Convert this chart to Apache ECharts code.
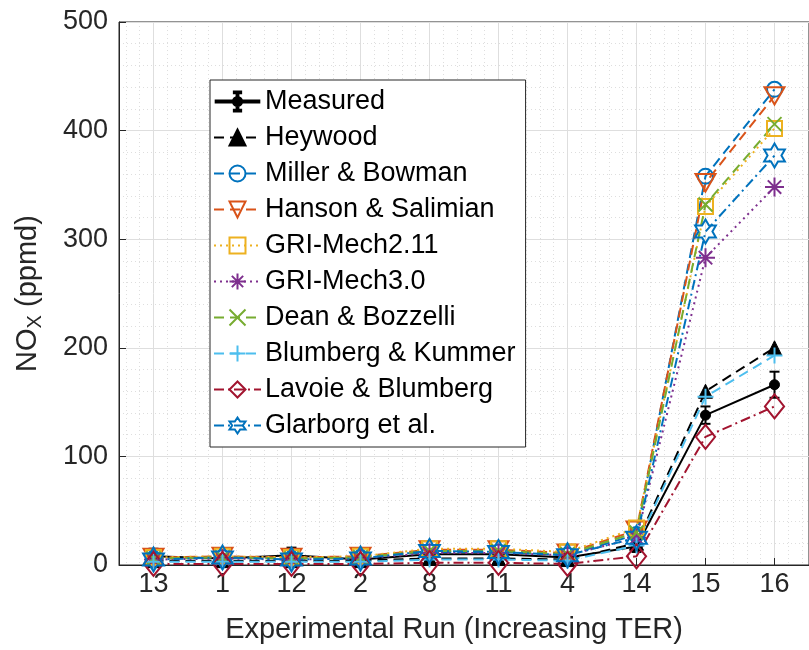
<!DOCTYPE html>
<html>
<head>
<meta charset="utf-8">
<script src="https://cdn.jsdelivr.net/npm/echarts@6/dist/echarts.min.js"></script>
<style>
  html, body { margin: 0; padding: 0; background: #ffffff; }
  #chart { width: 809px; height: 650px; }
</style>
</head>
<body>
<div id="chart"></div>
<script>
// Experimental runs, ordered by increasing TER
const runs = ['13', '1', '12', '2', '8', '11', '4', '14', '15', '16'];

// NOx (ppmd) per run
const measured       = [8, 6, 9, 5, 10, 10, 7, 17, 138, 166];
const measuredErr    = [7, 3, 7, 3, 4, 4, 3, 5, 8, 12];
const heywood        = [4, 4, 4, 4, 6, 6, 5, 20, 160, 200];
const millerBowman   = [6, 7, 6, 7, 12, 12, 9, 28, 358, 438];
const hansonSalimian = [7, 8, 7, 8, 14, 14, 11, 32, 352, 432];
const griMech211     = [7, 8, 7, 8, 15, 15, 12, 34, 330, 402];
const griMech30      = [5, 6, 5, 6, 11, 11, 9, 25, 283, 348];
const deanBozzelli   = [6, 7, 6, 7, 13, 13, 10, 30, 332, 406];
const blumbergKummer = [3, 3, 3, 3, 5, 5, 4, 18, 155, 193];
const lavoieBlumberg = [1, 1, 1, 1, 2, 2, 1, 8, 118, 146];
const glarborg       = [5, 7, 5, 6, 13, 12, 9, 25, 307, 377];

const yTicks = [0, 100, 200, 300, 400, 500];

// Marker outlines
const SYM = {
  circle:   'path://M10,0A10,10 0 1,1 -10,0A10,10 0 1,1 10,0Z',
  triDown:  'path://M-10,-8.66L10,-8.66L0,8.66Z',
  square:   'path://M-10,-10H10V10H-10Z',
  asterisk: 'path://M0,-10L0,10M-10,0L10,0M-7.07,-7.07L7.07,7.07M-7.07,7.07L7.07,-7.07',
  cross:    'path://M-10,-10L10,10M-10,10L10,-10',
  plus:     'path://M0,-10L0,10M-10,0L10,0',
  diamond:  'path://M0,-10L8,0L0,10L-8,0Z',
  hexagram: 'path://M0,-10L2.887,-5L8.66,-5L5.774,0L8.66,5L2.887,5L0,10L-2.887,5L-8.66,5L-5.774,0L-8.66,-5L-2.887,-5Z'
};
const DASH = [10, 6], DOT = [2, 4], DASHDOT = [10, 4, 2, 4];

const pts = arr => arr.map((v, i) => [i + 1, v]);

function lineSeries(name, values, color, dash, symbol, size, filled) {
  return {
    type: 'line',
    name: name,
    data: pts(values),
    symbol: symbol,
    symbolSize: size,
    symbolKeepAspect: true,
    lineStyle: { color: color, width: 2, type: dash },
    itemStyle: filled
      ? { color: color, borderColor: color, borderWidth: 1 }
      : { color: 'none', borderColor: color, borderWidth: 2 },
    emphasis: { disabled: true },
    z: 3
  };
}

const series = [
  lineSeries('Measured', measured, '#000000', 'solid', 'circle', 10, true),
  {
    type: 'custom',
    name: 'Measured range',
    data: measured.map((v, i) => [i + 1, v - measuredErr[i], v + measuredErr[i]]),
    encode: { x: 0, y: [1, 2] },
    renderItem: function (params, api) {
      const x = api.value(0);
      const lo = api.coord([x, api.value(1)]);
      const hi = api.coord([x, api.value(2)]);
      const hw = 5;
      const st = { stroke: '#000000', lineWidth: 2 };
      return {
        type: 'group',
        children: [
          { type: 'line', shape: { x1: lo[0], y1: lo[1], x2: hi[0], y2: hi[1] }, style: st },
          { type: 'line', shape: { x1: lo[0] - hw, y1: lo[1], x2: lo[0] + hw, y2: lo[1] }, style: st },
          { type: 'line', shape: { x1: hi[0] - hw, y1: hi[1], x2: hi[0] + hw, y2: hi[1] }, style: st }
        ]
      };
    },
    z: 3
  },
  lineSeries('Heywood', heywood, '#000000', DASH, 'triangle', 14, true),
  lineSeries('Miller & Bowman', millerBowman, '#0072BD', DASH, SYM.circle, 15, false),
  lineSeries('Hanson & Salimian', hansonSalimian, '#D95319', DASH, SYM.triDown, 20, false),
  lineSeries('GRI-Mech2.11', griMech211, '#EDB120', DOT, SYM.square, 15, false),
  lineSeries('GRI-Mech3.0', griMech30, '#7E2F8E', DOT, SYM.asterisk, 19, false),
  lineSeries('Dean & Bozzelli', deanBozzelli, '#77AC30', DASH, SYM.cross, 14, false),
  lineSeries('Blumberg & Kummer', blumbergKummer, '#4DBEEE', DASH, SYM.plus, 16, false),
  lineSeries('Lavoie & Blumberg', lavoieBlumberg, '#A2142F', DASHDOT, SYM.diamond, 24, false),
  lineSeries('Glarborg et al.', glarborg, '#0072BD', DASHDOT, SYM.hexagram, 24, false)
];

const FONT = '"Liberation Sans", Arial, Helvetica, sans-serif';
const TXT = '#262626';
const GRIDC = '#dedede';

const chart = echarts.init(document.getElementById('chart'), null, { renderer: 'canvas' });
chart.setOption({
  animation: false,
  backgroundColor: '#ffffff',
  textStyle: { fontFamily: FONT },
  grid: {
    left: 119, top: 22, width: 700, height: 543,
    show: true, borderColor: TXT, borderWidth: 1, backgroundColor: '#ffffff'
  },
  legend: {
    data: [
      { name: 'Measured', icon: 'path://M0,10H48V12H0Z M23,1H25V21H23Z M20,0H28V2H20Z M20,20H28V22H20Z M29,11A5,5 0 1,1 19,11A5,5 0 1,1 29,11Z' },
      'Heywood', 'Miller & Bowman', 'Hanson & Salimian', 'GRI-Mech2.11', 'GRI-Mech3.0',
      'Dean & Bozzelli', 'Blumberg & Kummer', 'Lavoie & Blumberg', 'Glarborg et al.'
    ],
    orient: 'vertical',
    left: 210, top: 80,
    itemWidth: 47, itemHeight: 20, itemGap: 9,
    padding: [8, 10, 8, 3],
    backgroundColor: '#ffffff',
    borderColor: TXT, borderWidth: 1, borderRadius: 0,
    selectedMode: false,
    textStyle: { fontFamily: FONT, fontSize: 27, lineHeight: 27, color: '#000000', padding: [0, 0, 0, -1] }
  },
  xAxis: [
    {
      type: 'value', min: 0.5, max: 10.5,
      name: 'Experimental Run (Increasing TER)',
      nameLocation: 'middle', nameGap: 50,
      nameTextStyle: { fontFamily: FONT, fontSize: 29, color: TXT, padding: [0, 20, 0, 0] },
      axisLine: { show: true, lineStyle: { color: TXT, width: 1 } },
      axisTick: { show: true, inside: true, length: 7, lineStyle: { color: TXT }, customValues: [1, 2, 3, 4, 5, 6, 7, 8, 9, 10] },
      axisLabel: {
        customValues: [1, 2, 3, 4, 5, 6, 7, 8, 9, 10],
        formatter: v => runs[Math.round(v) - 1],
        fontFamily: FONT, fontSize: 27, color: TXT, margin: 6
      },
      splitLine: { show: true, lineStyle: { color: GRIDC, width: 1 } }
    },
    {
      // dotted minor grid at every fifth of a run spacing
      type: 'value', min: 0.5, max: 10.5, interval: 0.1,
      axisLine: { show: false }, axisTick: { show: false }, axisLabel: { show: false },
      splitLine: {
        show: true,
        lineStyle: {
          color: ['rgba(0,0,0,0)', GRIDC, 'rgba(0,0,0,0)', GRIDC, 'rgba(0,0,0,0)',
                  'rgba(0,0,0,0)', 'rgba(0,0,0,0)', GRIDC, 'rgba(0,0,0,0)', GRIDC],
          type: [1, 3], width: 1
        }
      }
    }
  ],
  yAxis: {
    type: 'value', min: yTicks[0], max: yTicks[yTicks.length - 1], interval: 100,
    name: '{a|NO}{b|X}{a| (ppmd)}',
    nameLocation: 'middle', nameGap: 74, nameRotate: 90,
    nameTextStyle: {
      color: TXT,
      rich: {
        a: { fontFamily: FONT, fontSize: 29, color: TXT, lineHeight: 34 },
        b: { fontFamily: FONT, fontSize: 20, color: TXT, lineHeight: 34, padding: [14, 0, 0, 0] }
      }
    },
    axisLine: { show: true, lineStyle: { color: TXT, width: 1 } },
    axisTick: { show: true, inside: true, length: 7, lineStyle: { color: TXT } },
    axisLabel: { fontFamily: FONT, fontSize: 27, color: TXT, margin: 11 },
    splitLine: { show: true, lineStyle: { color: GRIDC, width: 1 } },
    minorTick: { show: false, splitNumber: 5 },
    minorSplitLine: { show: true, lineStyle: { color: GRIDC, width: 1, type: [1, 3] } }
  },
  series: series
});
</script>
</body>
</html>
